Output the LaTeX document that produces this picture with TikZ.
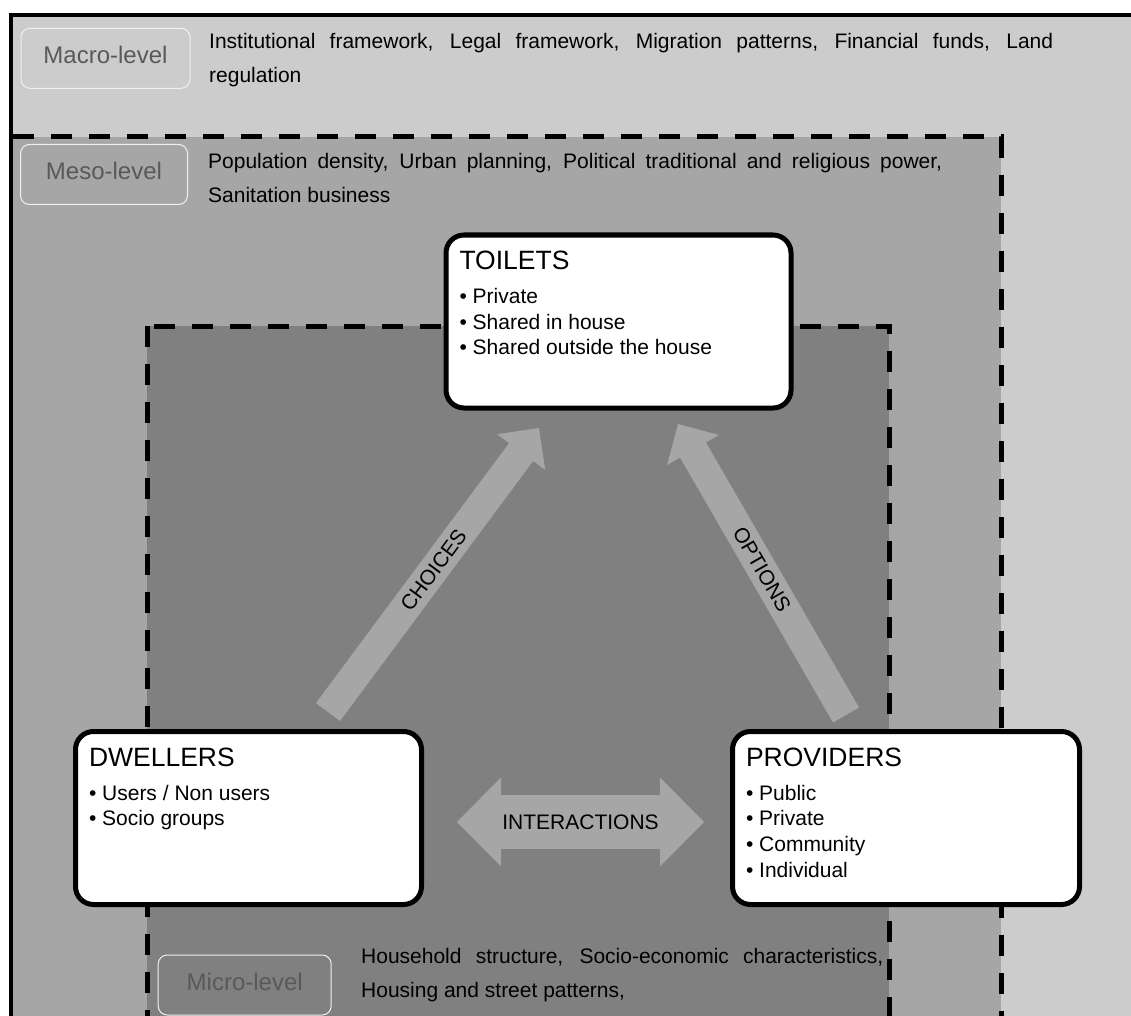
\documentclass[tikz,border=0pt]{standalone}
\usepackage{fontspec}
\setmainfont{Liberation Sans}
\usetikzlibrary{calc}

\definecolor{macrobg}{RGB}{204,204,204}
\definecolor{mesobg}{RGB}{166,166,166}
\definecolor{microbg}{RGB}{128,128,128}
\definecolor{flowgrey}{RGB}{166,166,166}
\definecolor{lvltext}{RGB}{89,89,89}
\definecolor{lvlframe}{RGB}{240,240,240}

\newcommand\actortitle{\fontsize{26.5}{30}\selectfont}
\newcommand\actoritem{\fontsize{21}{25.7}\selectfont}

\begin{document}
\begin{tikzpicture}[x=1pt,y=-1pt,
  levelframe/.style={line width=5pt, dash pattern=on 21pt off 17pt},
  lvl/.style={draw=lvlframe, line width=1pt, rounded corners=9pt,
    minimum width=169pt, minimum height=60pt, inner sep=0pt, text=lvltext,
    font=\fontsize{24}{28}\selectfont, text height=17.5pt, text depth=7.5pt},
  desc/.style={anchor=base west, inner sep=0pt, font=\fontsize{21}{34.5}\selectfont},
  actor/.style={draw=black, fill=white, line width=5pt, rounded corners=18pt,
    anchor=north west, outer sep=0pt, inner ysep=0pt, inner xsep=13.5pt},
  flow/.style={draw=flowgrey, line width=30pt},
  flowtip/.style={fill=flowgrey},
  flowlabel/.style={font=\fontsize{21}{25}\selectfont, inner sep=0pt}
]

% page and nested level panels
\fill[white] (0,0) rectangle (1131,1016);
\useasboundingbox (0,0) rectangle (1131,1016);
\begin{scope}
  \clip (0,0) rectangle (1131,1016);
  \fill[macrobg] (11,15) rectangle (1150,1060);
  \fill[mesobg] (11,137) rectangle (1001,1080);
  \draw[levelframe] (13,137) -- (1001,137) -- (1001,1080);
  \filldraw[fill=microbg, levelframe] (147,326) rectangle (889,1080);
  \draw[line width=4pt] (1150,15) -- (11,15) -- (11,1060);
\end{scope}

% level tags
\node[lvl] (macro) at (105.5,58.3) {Macro-level};
\node[lvl, minimum width=167pt] (meso) at (104,174.5) {Meso-level};
\node[lvl, minimum width=173pt] (micro) at (244.7,985) {Micro-level};

% level descriptions
\node[desc] (macroText) at (209,48.3) {\parbox[t]{844pt}{\makebox[844pt][s]{Institutional framework, Legal framework, Migration patterns, Financial funds, Land}\\regulation}};
\node[desc] (mesoText) at (208,168.3) {\parbox[t]{734pt}{\makebox[734pt][s]{Population density, Urban planning, Political traditional and religious power,}\\Sanitation business}};
\node[desc] (microText) at (361,963.3) {\parbox[t]{522pt}{\makebox[522pt][s]{Household structure, Socio-economic characteristics,}\\Housing and street patterns,}};

% CHOICES flow
\coordinate (chTail) at (328,712);
\coordinate (chTip) at (539,428);
\coordinate (chBase) at ($(chTip)!30pt!(chTail)$);
\draw[flow] (chTail) -- ($(chTip)!28pt!(chTail)$);
\fill[flowtip] (chTip) -- ($(chBase)!30pt!90:(chTip)$) -- ($(chBase)!30pt!-90:(chTip)$) -- cycle;
\path (chTail) -- node[flowlabel, sloped] (chLabel) {CHOICES} (chTip);

% OPTIONS flow
\coordinate (opTail) at (846,715);
\coordinate (opTip) at (678,424);
\coordinate (opBase) at ($(opTip)!30pt!(opTail)$);
\draw[flow] (opTail) -- ($(opTip)!28pt!(opTail)$);
\fill[flowtip] (opTip) -- ($(opBase)!30pt!90:(opTip)$) -- ($(opBase)!30pt!-90:(opTip)$) -- cycle;
\path (opTail) -- node[flowlabel, sloped] (opLabel) {OPTIONS} (opTip);

% INTERACTIONS double flow
\coordinate (iaLeft) at (457,822);
\coordinate (iaRight) at (704,822);
\coordinate (iaLB) at ($(iaLeft)!44pt!(iaRight)$);
\coordinate (iaRB) at ($(iaRight)!44pt!(iaLeft)$);
\draw[flow, line width=54pt] ($(iaLeft)!43pt!(iaRight)$) -- ($(iaRight)!43pt!(iaLeft)$);
\fill[flowtip] (iaLeft) -- ($(iaLB)!44.5pt!90:(iaLeft)$) -- ($(iaLB)!44.5pt!-90:(iaLeft)$) -- cycle;
\fill[flowtip] (iaRight) -- ($(iaRB)!44.5pt!90:(iaRight)$) -- ($(iaRB)!44.5pt!-90:(iaRight)$) -- cycle;
\path (iaLeft) -- node[flowlabel] (iaLabel) {INTERACTIONS} (iaRight);

% actors
\node[actor] (toilets) at (446,235) {\parbox[c][173pt][t]{318pt}{\actortitle\rule{0pt}{34.5pt}TOILETS\par\vspace{8.3pt}\actoritem
  \textbullet\ Private\par
  \textbullet\ Shared in house\par
  \textbullet\ Shared outside the house}};
\node[actor] (dwellers) at (75.5,731.5) {\parbox[c][173pt][t]{319pt}{\actortitle\rule{0pt}{34.5pt}DWELLERS\par\vspace{8.3pt}\actoritem
  \textbullet\ Users / Non users\par
  \textbullet\ Socio groups}};
\node[actor] (providers) at (732.5,731.5) {\parbox[c][173pt][t]{320pt}{\actortitle\rule{0pt}{34.5pt}PROVIDERS\par\vspace{8.3pt}\actoritem
  \textbullet\ Public\par
  \textbullet\ Private\par
  \textbullet\ Community\par
  \textbullet\ Individual}};

\end{tikzpicture}
\end{document}
